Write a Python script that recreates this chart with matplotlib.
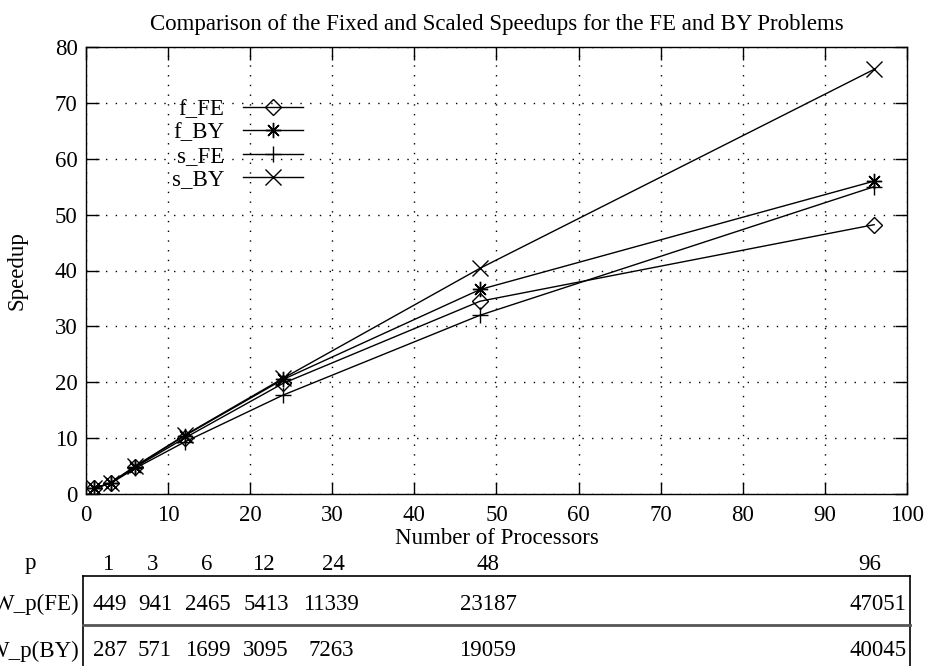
import numpy as np
import matplotlib
matplotlib.use('Agg')
import matplotlib.pyplot as plt
from matplotlib.lines import Line2D

plt.rcParams['font.family'] = ['Liberation Serif', 'DejaVu Serif']

# data
procs = [1, 3, 6, 12, 24, 48, 96]
f_fe = [1.0, 2.0, 4.8, 10.0, 19.8, 34.5, 48.2]
f_by = [1.0, 2.0, 4.9, 10.4, 20.5, 36.6, 56.0]
s_fe = [1.0, 1.9, 4.6, 9.3, 17.7, 32.0, 55.0]
s_by = [1.0, 2.0, 5.0, 10.5, 20.7, 40.4, 76.0]
labels = ['f_FE', 'f_BY', 's_FE', 's_BY']

w_fe = [449, 941, 2465, 5413, 11339, 23187, 47051]
w_by = [287, 571, 1699, 3095, 7263, 19059, 40045]

W, H = 929, 666
fig = plt.figure(figsize=(W / 100, H / 100), dpi=100)
ax = fig.add_axes([86 / W, 1 - 494 / H, (907 - 86) / W, (494 - 47) / H])

asterisk = (8, 2, 0)
markers = ['D', asterisk, '+', 'x']
msizes = [8, 11, 12, 11]
for ys, lab, m, ms in zip([f_fe, f_by, s_fe, s_by], labels, markers, msizes):
    ax.plot(procs, ys, color='black', lw=1, marker=m, ms=ms,
            mfc='none', mec='black', mew=1, label=lab)

ax.set_xlim(0, 100)
ax.set_ylim(0, 80)
ax.set_xticks(np.arange(0, 101, 10))
ax.set_yticks(np.arange(0, 81, 10))
ax.tick_params(direction='in', length=9, width=1, top=True, right=True,
               labelsize=16.5, pad=8)
ax.tick_params(axis='y', pad=6)
ax.grid(True, color='black', linestyle=(0, (1, 6)), lw=1)
for s in ax.spines.values():
    s.set_linewidth(1)

ax.set_title('Comparison of the Fixed and Scaled Speedups for the FE and BY Problems',
             fontsize=16.5, pad=12)
ax.set_xlabel('Number of Processors', fontsize=16.5, labelpad=1)
ax.set_ylabel('Speedup', fontsize=16.5, labelpad=20)

leg = ax.legend(loc='upper left', bbox_to_anchor=(0.08, 0.93), frameon=False,
                markerfirst=False, fontsize=16.5, handlelength=2.6,
                handletextpad=0.8, labelspacing=0.1)

# table below the plot (pixel layout)
def fx(x):
    return x / W

def fy(y):
    return 1 - y / H

p_centers = [108, 153, 207, 263, 333, 488, 870]
v_centers = [110, 155, 208, 266, 331, 488, 878]

fig.text(fx(30), fy(564), 'p', ha='center', va='center', fontsize=16.5)
for pc, p in zip(p_centers, procs):
    fig.text(fx(pc), fy(564), str(p), ha='center', va='center', fontsize=16.5)

fig.text(fx(80), fy(604), 'W_p(FE)', ha='right', va='center', fontsize=16.5)
fig.text(fx(80), fy(651), 'W_p(BY)', ha='right', va='center', fontsize=16.5)
for vc, a, b in zip(v_centers, w_fe, w_by):
    fig.text(fx(vc), fy(604), str(a), ha='center', va='center', fontsize=16.5)
    fig.text(fx(vc), fy(651), str(b), ha='center', va='center', fontsize=16.5)

box = [([83, 910], [576, 576]), ([83, 83], [576, 670]), ([910, 910], [576, 670])]
for xs, ys in box:
    fig.add_artist(Line2D([fx(v) for v in xs], [fy(v) for v in ys],
                          transform=fig.transFigure, color='black', lw=1.2))
fig.add_artist(Line2D([fx(83), fx(910)], [fy(625), fy(625)],
                      transform=fig.transFigure, color='#555555', lw=2))

fig.savefig('out.png', dpi=100)
